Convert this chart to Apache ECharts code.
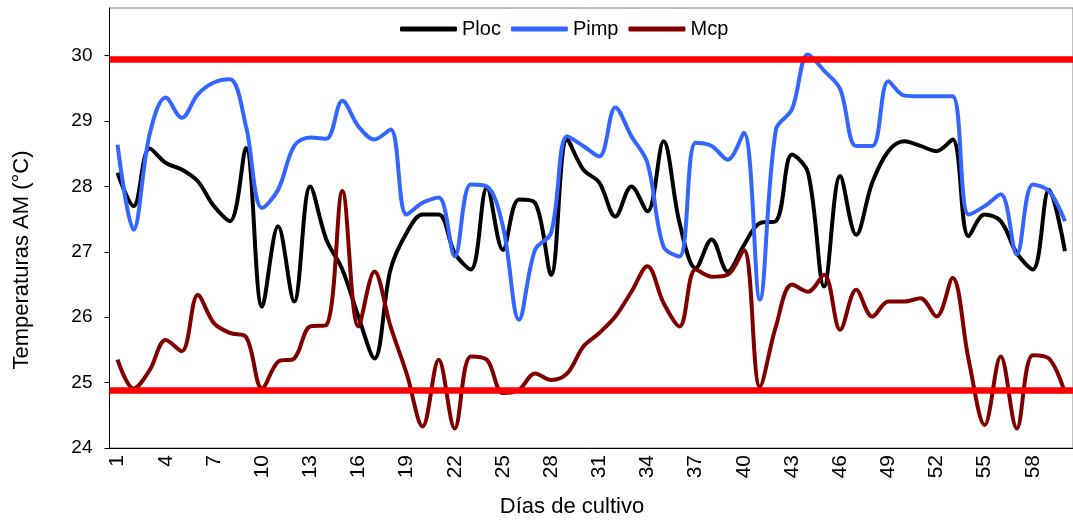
<!DOCTYPE html>
<html>
<head>
<meta charset="utf-8">
<script src="https://cdn.jsdelivr.net/npm/echarts@6/dist/echarts.min.js"></script>
<style>
  html, body { margin: 0; padding: 0; background: #fff; }
  #chart { width: 1073px; height: 521px; }
</style>
</head>
<body>
<div id="chart"></div>
<script>
const days = Array.from({length: 60}, (_, i) => String(i + 1));
const ploc = [28.21,27.70,28.58,28.36,28.26,28.08,27.70,27.47,28.59,26.16,
  27.39,26.24,28.00,27.19,26.73,26.01,25.37,26.73,27.29,27.57,
  27.57,26.98,26.73,27.98,27.03,27.80,27.75,26.65,28.72,28.26,
  28.06,27.54,28.00,27.62,28.69,27.44,26.75,27.19,26.70,27.10,
  27.44,27.47,28.49,28.21,26.47,28.16,27.26,28.06,28.54,28.69,
  28.62,28.54,28.72,27.24,27.57,27.47,26.98,26.73,27.95,27.01];
const pimp = [28.64,27.34,28.80,29.36,29.05,29.41,29.59,29.64,28.92,27.67,
  27.95,28.62,28.75,28.73,29.31,28.92,28.72,28.87,27.57,27.75,
  27.83,26.93,28.03,28.00,27.39,25.96,27.03,27.29,28.77,28.62,
  28.46,29.21,28.77,28.36,27.08,26.93,28.67,28.62,28.41,28.82,
  26.27,28.87,29.18,30.02,29.77,29.49,28.62,28.62,29.61,29.39,
  29.38,29.38,29.38,27.57,27.70,27.88,26.96,28.03,27.93,27.47];
const mcp = [25.35,24.91,25.19,25.65,25.48,26.34,25.91,25.76,25.70,24.91,
  25.32,25.37,25.86,25.88,27.93,25.86,26.70,25.86,25.14,24.33,
  25.35,24.30,25.40,25.35,24.84,24.89,25.14,25.04,25.14,25.55,
  25.76,26.01,26.39,26.78,26.22,25.86,26.73,26.62,26.65,27.03,
  24.94,25.86,26.50,26.39,26.65,25.81,26.42,26.01,26.24,26.24,
  26.29,26.01,26.60,25.35,24.35,25.40,24.30,25.42,25.37,24.84];
const limits = [29.95, 24.88];
const yTicks = [24, 25, 26, 27, 28, 29, 30];
const seriesNames = ['Ploc', 'Pimp', 'Mcp'];

const FONT = 'Liberation Sans, Arial, sans-serif';
const chart = echarts.init(document.getElementById('chart'), null, {renderer: 'canvas'});

const lineSeries = (name, data, color) => ({
  name, type: 'line', data, smooth: 0.35, symbol: 'none', showSymbol: false,
  lineStyle: { color, width: 4 }, itemStyle: { color }, z: 3
});

chart.setOption({
  animation: false,
  backgroundColor: '#ffffff',
  grid: { left: 109.5, top: 8, bottom: 73, right: -8.5, show: true, borderColor: '#808080', borderWidth: 1 },
  legend: {
    data: seriesNames, left: 400, top: 19, padding: 0, icon: 'roundRect', itemWidth: 57, itemHeight: 5, itemGap: 10,
    textStyle: { fontFamily: FONT, fontSize: 20, color: '#000' }
  },
  xAxis: {
    type: 'category', data: days, boundaryGap: true,
    axisLine: { lineStyle: { color: '#000', width: 1 } },
    axisTick: { interval: 0, length: 5, lineStyle: { color: '#000' } },
    axisLabel: { interval: 2, rotate: 90, margin: 7, fontFamily: FONT, fontSize: 21, color: '#000' },
    splitLine: { show: false }
  },
  yAxis: {
    type: 'value', min: 24, max: 30.73, interval: 1,
    axisLine: { show: true, lineStyle: { color: '#000', width: 1 } },
    axisTick: { show: true, length: 5, customValues: yTicks, lineStyle: { color: '#000' } },
    axisLabel: { customValues: yTicks, margin: 17, fontFamily: FONT, fontSize: 19, color: '#000' },
    splitLine: { show: false }
  },
  graphic: [
    { type: 'text', x: 572, y: 507, style: { text: 'Días de cultivo', font: '22px ' + FONT, fill: '#000', textAlign: 'center', textVerticalAlign: 'middle' } },
    { type: 'text', x: 22, y: 260, rotation: Math.PI / 2, style: { text: 'Temperaturas AM (°C)', font: '22px ' + FONT, fill: '#000', textAlign: 'center', textVerticalAlign: 'middle' } }
  ],
  series: [
    {
      name: 'limits', type: 'line', data: [], silent: true, z: 2,
      markLine: {
        silent: true, symbol: 'none', label: { show: false },
        lineStyle: { color: '#ff0000', width: 6.5, type: 'solid' },
        data: limits.map(v => ({ yAxis: v }))
      }
    },
    lineSeries('Ploc', ploc, '#000000'),
    lineSeries('Pimp', pimp, '#3366ff'),
    lineSeries('Mcp', mcp, '#800000')
  ]
});
</script>
</body>
</html>
